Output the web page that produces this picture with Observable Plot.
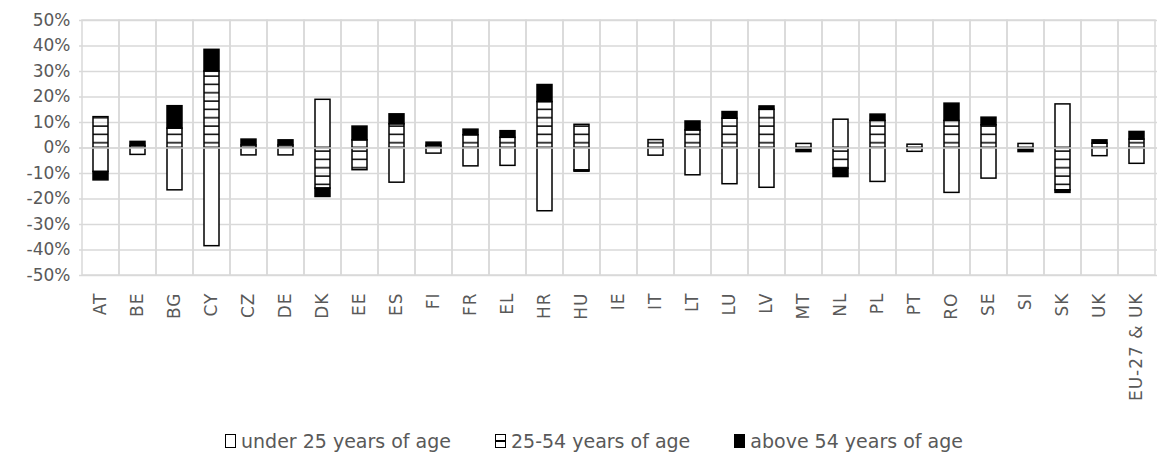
<!DOCTYPE html>
<html>
<head>
<meta charset="utf-8">
<script src="https://cdn.jsdelivr.net/npm/d3@7"></script>
<script src="https://cdn.jsdelivr.net/npm/@observablehq/plot@0.6"></script>
<style>
  html, body { margin: 0; padding: 0; background: #fff; }
  #wrap { position: relative; width: 1158px; height: 459px; }
  #legend { position: absolute; left: 225px; top: 430px; display: flex; align-items: center;
    font-family: "DejaVu Sans", sans-serif; font-size: 19px; color: #595959; white-space: nowrap; }
  .item { display: flex; align-items: center; margin-right: 44px; }
  .sw { width: 9px; height: 12px; border: 1.5px solid #000; background: #fff; margin-right: 5px; box-sizing: content-box; position: relative; }
  .sw.mid::after { content: ""; position: absolute; left: 0; right: 0; top: 5px; height: 1.5px; background: #000; }
  .sw.blk { background: #000; }
</style>
</head>
<body>
<div id="wrap">
  <div id="chart"></div>
  <div id="legend"></div>
</div>
<script>
const countries = ["AT","BE","BG","CY","CZ","DE","DK","EE","ES","FI","FR","EL","HR","HU","IE","IT","LT","LU","LV","MT","NL","PL","PT","RO","SE","SI","SK","UK","EU-27 & UK"];
const ages = ["under 25 years of age", "25-54 years of age", "above 54 years of age"];
const under25 = [-9.4, -2.7, -16.6, -38.5, -2.9, -2.9, 18.9, 3.0, -13.6, -2.2, -7.2, -7.0, -24.8, -8.8, 0, -3.0, -10.7, -14.2, -15.6, 1.6, 11.1, -13.3, -1.5, -17.6, -12.0, 1.6, 17.1, -3.2, -6.2];
const age2554 = [12.1, 0.8, 7.6, 30.0, 1.0, 1.0, -15.9, -8.7, 9.3, 0.8, 5.0, 4.0, 18.0, 9.1, 0, 3.1, 6.9, 11.5, 15.0, 0, -8.1, 10.6, 1.3, 10.6, 8.9, 0, -16.6, 1.7, 3.3];
const above54 = [-3.3, 1.6, 8.8, 8.5, 2.3, 2.0, -3.3, 5.4, 3.9, 1.3, 2.2, 2.6, 6.7, -0.5, 0, 0, 3.5, 2.6, 1.3, -1.6, -3.3, 2.5, 0, 6.8, 3.0, -1.6, -1.0, 1.3, 3.0];
const yTicks = [-50, -40, -30, -20, -10, 0, 10, 20, 30, 40, 50];
const fills = ["#ffffff", "url(#stripes)", "#000000"];

const series = [under25, age2554, above54];
const data = [];
countries.forEach((c, i) => {
  ages.forEach((a, k) => {
    const v = series[k][i];
    if (v !== 0) data.push({country: c, age: a, value: v});
  });
});

const grid = "#d9d9d9";
const chart = Plot.plot({
  width: 1158,
  height: 420,
  marginLeft: 79,
  marginRight: 1,
  marginTop: 20,
  marginBottom: 145,
  style: {fontFamily: "DejaVu Sans, sans-serif", fontSize: "17px", color: "#595959", background: "white"},
  x: {domain: countries, padding: 0, label: null, tickSize: 0, tickRotate: -90, tickPadding: 17},
  y: {domain: [-50, 50], ticks: yTicks, tickFormat: d => d + "%", tickSize: 0, tickPadding: 9, label: null},
  color: {type: "ordinal", domain: ages, range: fills},
  marks: [
    Plot.ruleY(yTicks, {stroke: grid, strokeWidth: 1.5}),
    Plot.barY(countries, {x: d => d, y1: -50, y2: 50, fill: "none", stroke: grid, strokeWidth: 1.5}),
    Plot.barY(data, Plot.stackY({x: "country", y: "value", fill: "age", stroke: "#000", strokeWidth: 1.5, insetLeft: 11, insetRight: 11})),
    Plot.ruleY([0], {stroke: grid, strokeWidth: 1.5})
  ]
});

d3.select(chart).insert("defs", ":first-child").html(
  '<pattern id="stripes" patternUnits="userSpaceOnUse" x="0" y="0" width="10" height="8.333">' +
  '<rect x="0" y="0.35" width="10" height="1.5" fill="#000"></rect></pattern>'
);
d3.select(chart).selectAll("g[aria-label='x-axis tick label'] text").style("letter-spacing", "1px");
document.getElementById("chart").appendChild(chart);

const legend = document.getElementById("legend");
const cls = ["", "mid", "blk"];
ages.forEach((a, k) => {
  const it = document.createElement("div");
  it.className = "item";
  const sw = document.createElement("span");
  sw.className = "sw " + cls[k];
  const tx = document.createElement("span");
  tx.textContent = a;
  it.appendChild(sw); it.appendChild(tx);
  legend.appendChild(it);
});
</script>
</body>
</html>
